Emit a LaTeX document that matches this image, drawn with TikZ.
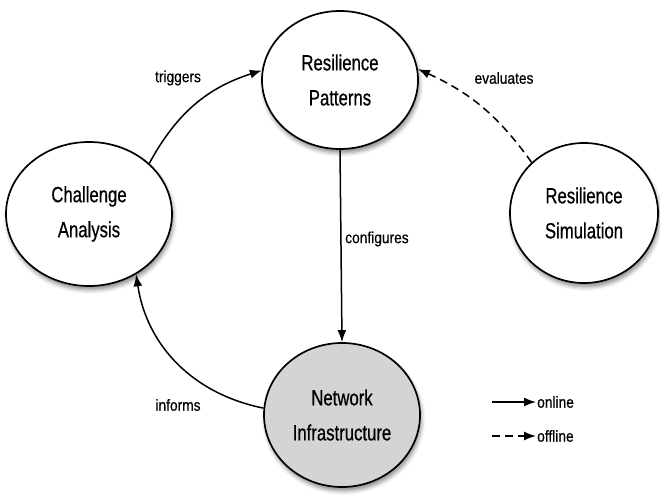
\documentclass[tikz,border=0pt]{standalone}
\usepackage{fontspec}
\newfontfamily\nodefont{Liberation Sans}[FakeStretch=0.76, FakeBold=0.6]
\newfontfamily\labelfont{Liberation Sans}[FakeStretch=0.86, FakeBold=0.6]
\usetikzlibrary{shapes.geometric,arrows.meta,shadows.blur}
\tikzset{
  stage/.style={ellipse, draw=black, line width=1.7pt, fill=white, inner sep=0pt,
    align=center, font=\nodefont\fontsize{22}{35}\selectfont,
    blur shadow={shadow xshift=1.5pt, shadow yshift=-4pt, shadow blur radius=4pt, shadow opacity=45}},
  flow/.style={line width=1.5pt, -{Latex[length=12pt,width=9pt]}},
  offflow/.style={flow, dash pattern=on 8pt off 5pt},
  lbl/.style={font=\labelfont\fontsize{16}{18}\selectfont, inner sep=0pt}
}
\begin{document}
\begin{tikzpicture}[x=1pt,y=1pt]
  \useasboundingbox (0,0) rectangle (660,495);
  % process stages
  \node[stage, minimum width=156pt, minimum height=138pt] (rp) at (340,415) {Resilience\\Patterns};
  \node[stage, minimum width=166pt, minimum height=144pt] (ca) at (89,281) {Challenge\\Analysis};
  \node[stage, minimum width=148pt, minimum height=140pt] (rs) at (584,282) {Resilience\\Simulation};
  \node[stage, minimum width=156pt, minimum height=144pt, fill={rgb,255:red,212;green,212;blue,212}] (ni) at (342,80) {Network\\Infrastructure};
  % connectors
  \draw[flow] (ca.40) to[bend left=22] (rp.173);
  \draw[offflow] (rs.136) to[bend right=15] (rp.8);
  \draw[flow] (rp.south) -- (ni.north);
  \draw[flow] (ni.175) to[bend left=35] (ca.-52);
  % connector labels
  \node[lbl] (ltrig) at (178,417) {triggers};
  \node[lbl] (leval) at (504,417) {evaluates};
  \node[lbl, anchor=west] (lconf) at (345,256) {configures};
  \node[lbl] (linf) at (178,90) {informs};
  % legend
  \coordinate (on1) at (492,93);
  \coordinate (on2) at (536,93);
  \coordinate (off1) at (492,59);
  \coordinate (off2) at (536,59);
  \draw[flow] (on1) -- (on2);
  \draw[offflow] (off1) -- (off2);
  \node[lbl, anchor=west] (lon) at (537,93) {online};
  \node[lbl, anchor=west] (loff) at (537,59) {offline};
\end{tikzpicture}
\end{document}
